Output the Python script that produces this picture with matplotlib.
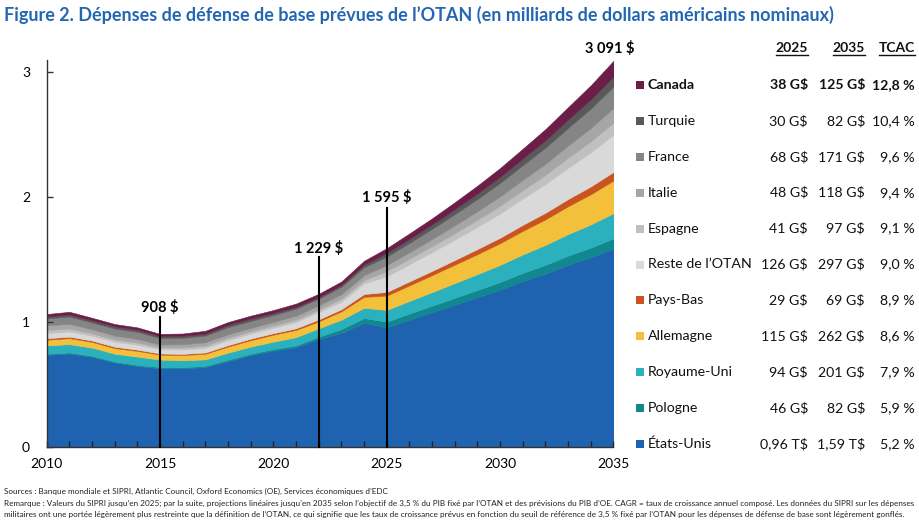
import matplotlib
matplotlib.use("Agg")
import matplotlib.pyplot as plt
from matplotlib.patches import Rectangle

plt.rcParams['font.family'] = ['Lato', 'DejaVu Sans']

# ---- data (trillions USD, nominal) ----
years = list(range(2010, 2036))

etats_unis = [0.738, 0.748, 0.722, 0.676, 0.648, 0.630, 0.630, 0.640, 0.688, 0.735,
              0.772, 0.800, 0.866, 0.915, 0.995, 0.958, 1.020, 1.080, 1.140, 1.200,
              1.260, 1.330, 1.390, 1.460, 1.520, 1.590]
pologne = [0.009, 0.010, 0.009, 0.009, 0.010, 0.010, 0.009, 0.010, 0.012, 0.012,
           0.013, 0.014, 0.017, 0.030, 0.038, 0.046, 0.049, 0.052, 0.055, 0.058,
           0.062, 0.065, 0.069, 0.073, 0.077, 0.082]
royaume_uni = [0.066, 0.066, 0.065, 0.062, 0.066, 0.060, 0.056, 0.052, 0.056, 0.057,
               0.059, 0.066, 0.068, 0.075, 0.082, 0.094, 0.101, 0.109, 0.118, 0.127,
               0.137, 0.148, 0.160, 0.173, 0.186, 0.201]
allemagne = [0.046, 0.048, 0.046, 0.045, 0.046, 0.040, 0.042, 0.045, 0.049, 0.052,
             0.056, 0.058, 0.056, 0.067, 0.088, 0.115, 0.125, 0.136, 0.148, 0.160,
             0.174, 0.189, 0.205, 0.223, 0.242, 0.262]
pays_bas = [0.012, 0.012, 0.011, 0.011, 0.010, 0.009, 0.009, 0.010, 0.011, 0.012,
            0.012, 0.013, 0.015, 0.017, 0.023, 0.029, 0.032, 0.034, 0.037, 0.041,
            0.044, 0.048, 0.053, 0.058, 0.063, 0.069]
reste_otan = [0.040, 0.042, 0.038, 0.040, 0.040, 0.034, 0.035, 0.037, 0.040, 0.041,
              0.043, 0.050, 0.060, 0.060, 0.085, 0.126, 0.137, 0.150, 0.163, 0.178,
              0.194, 0.211, 0.230, 0.250, 0.273, 0.297]
espagne = [0.025, 0.023, 0.020, 0.018, 0.017, 0.015, 0.016, 0.018, 0.019, 0.018,
           0.018, 0.019, 0.020, 0.024, 0.026, 0.041, 0.044, 0.048, 0.052, 0.057,
           0.062, 0.067, 0.073, 0.080, 0.088, 0.097]
italie = [0.038, 0.038, 0.032, 0.031, 0.028, 0.023, 0.026, 0.027, 0.028, 0.026,
          0.029, 0.032, 0.033, 0.036, 0.040, 0.048, 0.052, 0.057, 0.063, 0.068,
          0.075, 0.082, 0.089, 0.098, 0.107, 0.118]
france = [0.055, 0.058, 0.055, 0.057, 0.058, 0.052, 0.052, 0.054, 0.058, 0.057,
          0.055, 0.057, 0.054, 0.060, 0.064, 0.068, 0.075, 0.082, 0.090, 0.098,
          0.108, 0.118, 0.130, 0.142, 0.156, 0.171]
turquie = [0.017, 0.017, 0.017, 0.018, 0.017, 0.015, 0.016, 0.015, 0.018, 0.020,
           0.017, 0.014, 0.011, 0.015, 0.021, 0.030, 0.033, 0.036, 0.040, 0.045,
           0.049, 0.054, 0.060, 0.067, 0.074, 0.082]
canada = [0.019, 0.021, 0.020, 0.018, 0.018, 0.018, 0.018, 0.023, 0.022, 0.022,
          0.023, 0.026, 0.027, 0.027, 0.030, 0.038, 0.043, 0.048, 0.055, 0.062,
          0.070, 0.078, 0.088, 0.099, 0.112, 0.125]

# bottom -> top
series_names = ['États-Unis', 'Pologne', 'Royaume-Uni', 'Allemagne', 'Pays-Bas',
                'Reste de l’OTAN', 'Espagne', 'Italie', 'France', 'Turquie', 'Canada']
series = [etats_unis, pologne, royaume_uni, allemagne, pays_bas, reste_otan,
          espagne, italie, france, turquie, canada]
colors = ['#1f63b0', '#11878f', '#2bb0bd', '#f2c03a', '#c9541f', '#d9d9d9',
          '#c0c0c0', '#a6a6a6', '#858585', '#595959', '#6b1e47']

val_2025 = ['0,96 T$', '46 G$', '94 G$', '115 G$', '29 G$', '126 G$',
            '41 G$', '48 G$', '68 G$', '30 G$', '38 G$']
val_2035 = ['1,59 T$', '82 G$', '201 G$', '262 G$', '69 G$', '297 G$',
            '97 G$', '118 G$', '171 G$', '82 G$', '125 G$']
tcac = ['5,2 %', '5,9 %', '7,9 %', '8,6 %', '8,9 %', '9,0 %',
        '9,1 %', '9,4 %', '9,6 %', '10,4 %', '12,8 %']

callout_years = [2015, 2022, 2025]
callout_labels = ['908 $', '1 229 $', '1 595 $']
callout_tops = [1.04, 1.52, 1.915]
callout_text_y = [1.12, 1.59, 2.0]

W, H = 920, 520
fig = plt.figure(figsize=(W / 100, H / 100), dpi=100)
ax = fig.add_axes([46.7 / W, 1 - 447 / H, (613.5 - 46.7) / W, (447 - 60) / H])

polys = ax.stackplot(years, *series, colors=colors, linewidth=0)
for p in polys:
    p.set_edgecolor(p.get_facecolor())
    p.set_linewidth(0.4)

ax.set_xlim(2010, 2035)
ax.set_ylim(0, 3.1)
ax.set_xticks(range(2010, 2036, 5))
ax.set_xticks(years, minor=True)
ax.set_yticks([0, 1, 2, 3])
for s in ['top', 'right']:
    ax.spines[s].set_visible(False)
for s in ['left', 'bottom']:
    ax.spines[s].set_color('#333333')
    ax.spines[s].set_linewidth(1.0)
    ax.spines[s].set_zorder(5)
ax.tick_params(axis='x', which='both', direction='in', length=4, width=1,
               color='#222222', labelsize=10, pad=8)
ax.tick_params(axis='y', which='major', direction='in', length=4, width=1,
               color='#333333', labelsize=10, pad=12)

# callouts
for yr, lab, top, ty in zip(callout_years, callout_labels, callout_tops, callout_text_y):
    ax.plot([yr, yr], [0, top], color='black', lw=1.5, zorder=6, clip_on=False)
    ax.text(yr, ty, lab, ha='center', va='center', fontsize=10.5,
            fontweight='bold', color='black')
ax.text(2034.85, 3.195, '3 091 $', ha='center', va='center', fontsize=10.5,
        fontweight='bold', color='black', clip_on=False)

# title
fig.text(4 / W, 1 - 15 / H,
         'Figure 2. Dépenses de défense de base prévues de l’OTAN (en milliards de dollars américains nominaux)',
         ha='left', va='center', fontsize=13.0, fontweight='bold', color='#2367b3')

# legend table
hdr_y = 48
for txt, xr in zip(['2025', '2035', 'TCAC'], [808, 865, 915]):
    fig.text(xr / W, 1 - hdr_y / H, txt, ha='right', va='center',
             fontsize=10, fontweight='bold', color='#111111')
rows_top = 85
row_gap = 35.9
for i in range(len(series)):
    k = len(series) - 1 - i
    y = rows_top + i * row_gap
    fy = 1 - y / H
    bold = 'bold' if series_names[k] == 'Canada' else 'normal'
    fig.patches.append(Rectangle((636 / W, 1 - (y + 4) / H), 8 / W, 8 / H,
                                 transform=fig.transFigure, facecolor=colors[k],
                                 edgecolor='none'))
    fig.text(648 / W, fy, series_names[k], ha='left', va='center', fontsize=10.2,
             fontweight=bold, color='#111111')
    fig.text(808 / W, fy, val_2025[k], ha='right', va='center', fontsize=10.2,
             fontweight=bold, color='#111111')
    fig.text(865 / W, fy, val_2035[k], ha='right', va='center', fontsize=10.2,
             fontweight=bold, color='#111111')
    fig.text(915 / W, fy, tcac[k], ha='right', va='center', fontsize=10.2,
             fontweight=bold, color='#111111')

# underline headers
fig.canvas.draw()
renderer = fig.canvas.get_renderer()
for t in fig.texts:
    if t.get_text() in ('2025', '2035', 'TCAC'):
        bb = t.get_window_extent(renderer)
        yline = bb.y0 - 1
        fig.add_artist(plt.Line2D([bb.x0 / W, bb.x1 / W], [yline / H, yline / H],
                                  transform=fig.transFigure, color='#111111', lw=1))

# footnotes
notes = [
    'Sources : Banque mondiale et SIPRI, Atlantic Council, Oxford Economics (OE), Services économiques d’EDC',
    'Remarque : Valeurs du SIPRI jusqu’en 2025; par la suite, projections linéaires jusqu’en 2035 selon l’objectif de 3,5 % du PIB fixé par l’OTAN et des prévisions du PIB d’OE. CAGR = taux de croissance annuel composé. Les données du SIPRI sur les dépenses',
    'militaires ont une portée légèrement plus restreinte que la définition de l’OTAN, ce qui signifie que les taux de croissance prévus en fonction du seuil de référence de 3,5 % fixé par l’OTAN pour les dépenses de défense de base sont légèrement gonflés.',
]
for txt, y in zip(notes, [491, 503, 514]):
    fig.text(4 / W, 1 - y / H, txt, ha='left', va='center', fontsize=5.85,
             color='#222222')

fig.savefig('out.png', dpi=100)
